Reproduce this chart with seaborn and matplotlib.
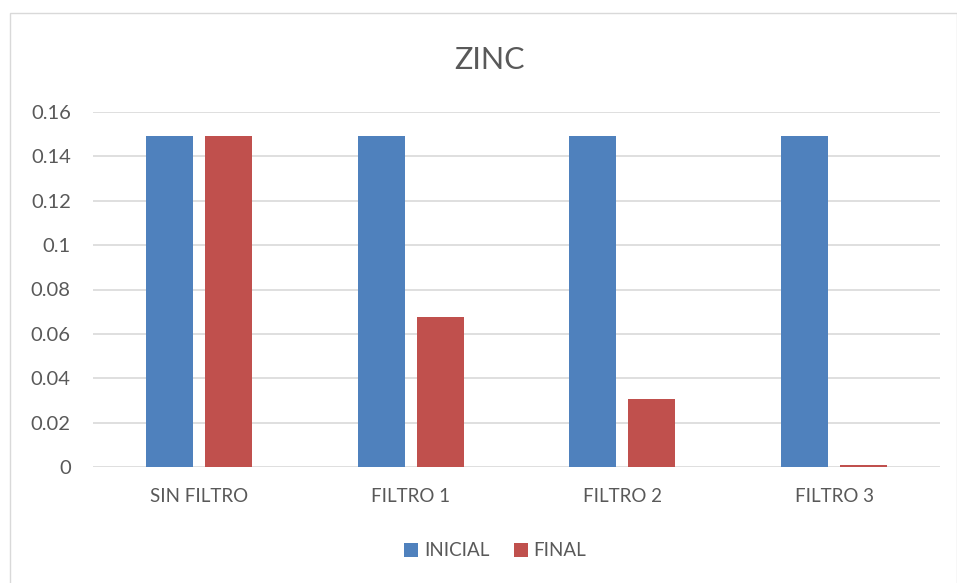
import matplotlib
matplotlib.use("Agg")
import matplotlib.pyplot as plt
import seaborn as sns
import pandas as pd
from matplotlib.patches import Rectangle, Patch

categories = ["SIN FILTRO", "FILTRO 1", "FILTRO 2", "FILTRO 3"]
inicial = [0.149, 0.149, 0.149, 0.149]
final = [0.149, 0.0674, 0.0307, 0.0008]
series = ["INICIAL", "FINAL"]
yticks = [0, 0.02, 0.04, 0.06, 0.08, 0.1, 0.12, 0.14, 0.16]
ytick_labels = ["0", "0.02", "0.04", "0.06", "0.08", "0.1", "0.12", "0.14", "0.16"]

df = pd.DataFrame({
    "cat": categories * 2,
    "serie": [series[0]] * 4 + [series[1]] * 4,
    "val": inicial + final,
})

sns.set_theme(style="white")
plt.rcParams['font.family'] = ['Lato', 'DejaVu Sans']
txt = "#595959"
W, H = 957, 583
fig = plt.figure(figsize=(W / 100, H / 100), dpi=100)
ax = fig.add_axes([93 / W, (H - 467) / H, (940 - 93) / W, (467 - 112) / H])

colors = {"INICIAL": "#4F81BD", "FINAL": "#C0504D"}
sns.barplot(data=df, x="cat", y="val", hue="serie", palette=colors, ax=ax,
            width=0.557, gap=0.2, legend=False, saturation=1, zorder=3,
            linewidth=0)

ax.set_xlim(-0.5, 3.5)
ax.set_ylim(0, 0.16)
ax.set_yticks(yticks)
ax.set_yticklabels(ytick_labels)
ax.grid(axis="y", color="#D9D9D9", linewidth=1.2, zorder=0)
ax.set_axisbelow(True)
for s in ax.spines.values():
    s.set_visible(False)
ax.set_xlabel("")
ax.set_ylabel("")
ax.tick_params(axis="y", length=0, pad=16, labelsize=14.5, labelcolor=txt)
ax.tick_params(axis="x", length=0, pad=15, labelsize=13.5, labelcolor=txt)
for lab in ax.get_yticklabels():
    lab.set_horizontalalignment("right")

fig.text(490 / W, (H - 60) / H, "ZINC", ha="center", va="center", fontsize=22, color=txt)

handles = [Patch(facecolor=colors[s], edgecolor="none") for s in series]
fig.legend(handles, series, loc="center", bbox_to_anchor=(495 / W, (H - 551) / H),
           ncol=2, frameon=False, fontsize=13.5, labelcolor=txt,
           handlelength=0.75, handleheight=0.75, handletextpad=0.3, columnspacing=1.3)

fig.patches.append(Rectangle((10 / W, -0.01), (W - 10) / W, (H - 13) / H + 0.01,
                             transform=fig.transFigure, fill=False,
                             edgecolor="#D9D9D9", linewidth=1))

fig.savefig("out.png", dpi=100, facecolor="white")
